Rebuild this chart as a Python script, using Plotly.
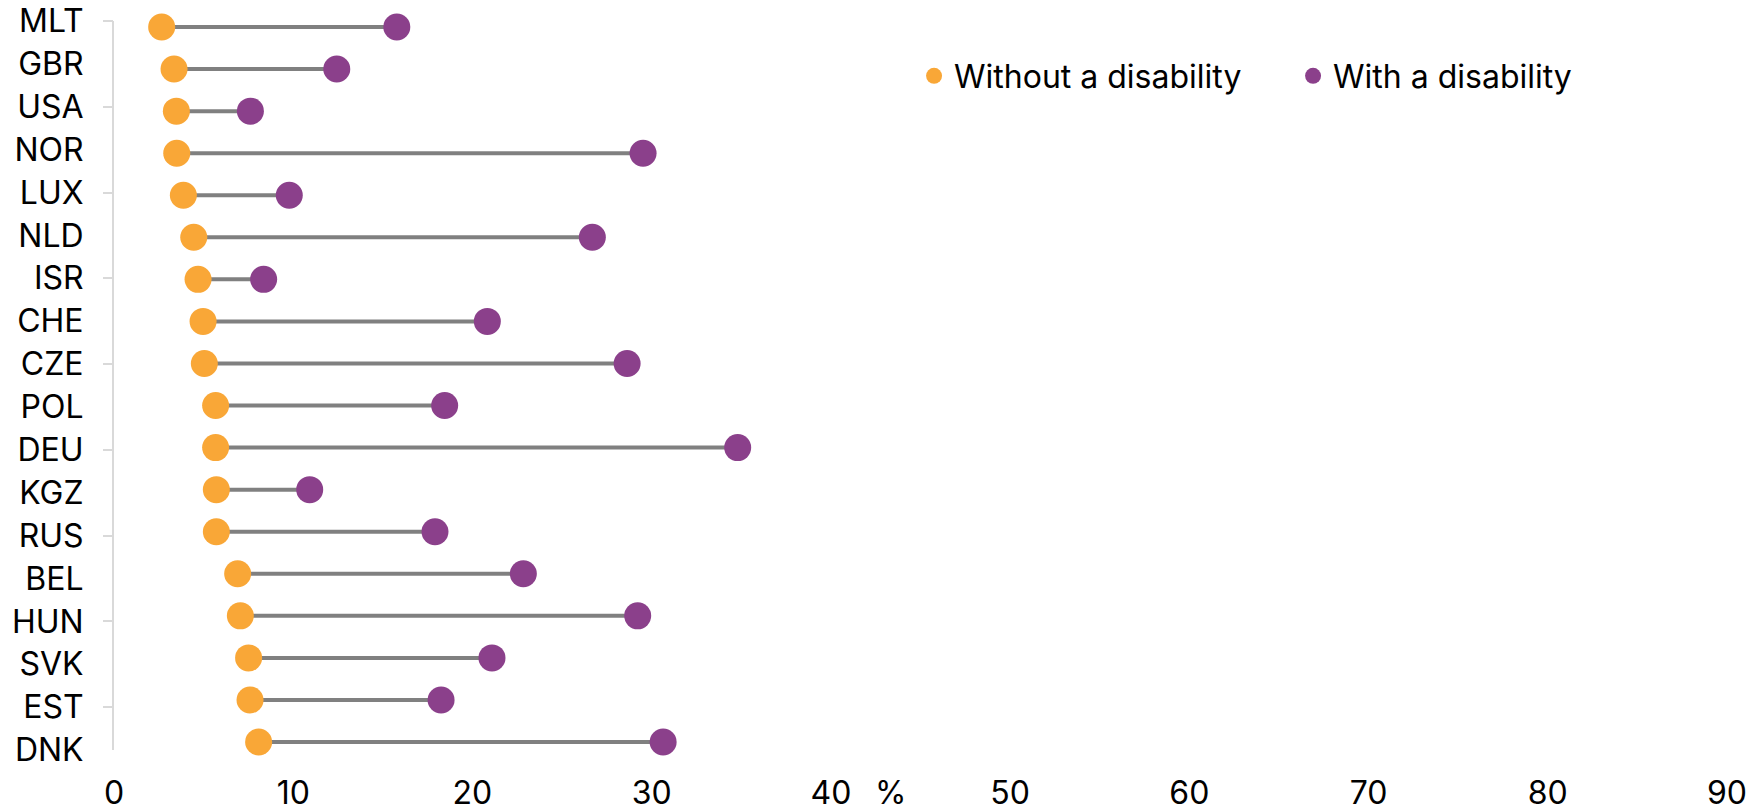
import plotly.graph_objects as go

countries = ["MLT", "GBR", "USA", "NOR", "LUX", "NLD", "ISR", "CHE", "CZE",
             "POL", "DEU", "KGZ", "RUS", "BEL", "HUN", "SVK", "EST", "DNK"]
without_disability = [2.66, 3.35, 3.48, 3.50, 3.87, 4.45, 4.69, 4.97, 5.04,
                      5.67, 5.67, 5.71, 5.71, 6.90, 7.05, 7.51, 7.59, 8.07]
with_disability = [15.78, 12.43, 7.61, 29.52, 9.78, 26.69, 8.35, 20.83, 28.63,
                   18.45, 34.80, 10.92, 17.91, 22.84, 29.22, 21.09, 18.25, 30.64]
x_ticks = [0, 10, 20, 30, 40, 50, 60, 70, 80, 90]

ORANGE = "#F9A737"
PURPLE = "#8B408B"
GRAY = "#808080"
AXIS = "#D9D9D9"
FONT = "Inter"
FS = 32

pos = list(range(len(countries)))

# connector lines
lx, ly = [], []
for i, (a, b) in enumerate(zip(without_disability, with_disability)):
    lx += [a, b, None]
    ly += [i, i, None]

fig = go.Figure()
fig.add_trace(go.Scatter(x=lx, y=ly, mode="lines", line=dict(color=GRAY, width=4),
                         showlegend=False, hoverinfo="skip", cliponaxis=False))
fig.add_trace(go.Scatter(x=without_disability, y=pos, mode="markers", name="Without a disability",
                         marker=dict(color=ORANGE, size=27, line=dict(width=0)),
                         text=countries, cliponaxis=False))
fig.add_trace(go.Scatter(x=with_disability, y=pos, mode="markers", name="With a disability",
                         marker=dict(color=PURPLE, size=27, line=dict(width=0)),
                         text=countries, cliponaxis=False))
# empty traces so that the category-label axis and tick axis are drawn
fig.add_trace(go.Scatter(x=[], y=[], yaxis="y2", showlegend=False, hoverinfo="skip"))
fig.add_trace(go.Scatter(x=[], y=[], yaxis="y3", showlegend=False, hoverinfo="skip"))

fig.update_layout(
    width=1753, height=799,
    margin=dict(l=106, r=34, t=13, b=57, autoexpand=False),
    paper_bgcolor="white", plot_bgcolor="white",
    font=dict(family=FONT, size=FS, color="#000000"),
    xaxis=dict(range=[0, 90], tickvals=x_ticks, showgrid=False, zeroline=False,
               showline=False, ticks="", ticklabelstandoff=21, automargin=False,
               ticklabeloverflow="allow",
               tickfont=dict(family=FONT, size=FS, color="#000000")),
    yaxis=dict(range=[17.19, -0.143], visible=False, showgrid=False, zeroline=False,
               automargin=False),
    yaxis2=dict(overlaying="y", side="left", range=[17, 0], tickvals=pos, ticktext=countries,
                ticks="", showgrid=False, zeroline=False, showline=True, automargin=False,
                linecolor=AXIS, linewidth=2, ticklabelstandoff=22,
                ticklabeloverflow="allow",
                tickfont=dict(family=FONT, size=FS, color="#000000")),
    yaxis3=dict(overlaying="y", side="left", range=[17, 0], tickvals=pos[::2],
                ticks="outside", ticklen=10, tickwidth=2, tickcolor=AXIS, automargin=False,
                showticklabels=False, showgrid=False, zeroline=False, showline=False),
    legend=dict(orientation="h", x=0.496, xanchor="left", y=0.9245, yanchor="middle",
                font=dict(family=FONT, size=FS, color="#000000"),
                entrywidth=334, entrywidthmode="pixels", bgcolor="rgba(0,0,0,0)"),
    annotations=[dict(text="%", x=43.3, xref="x", y=0, yref="paper", yanchor="middle",
                      yshift=-42, showarrow=False,
                      font=dict(family=FONT, size=FS, color="#000000"))],
    showlegend=True,
)

fig.write_html("out.html")
